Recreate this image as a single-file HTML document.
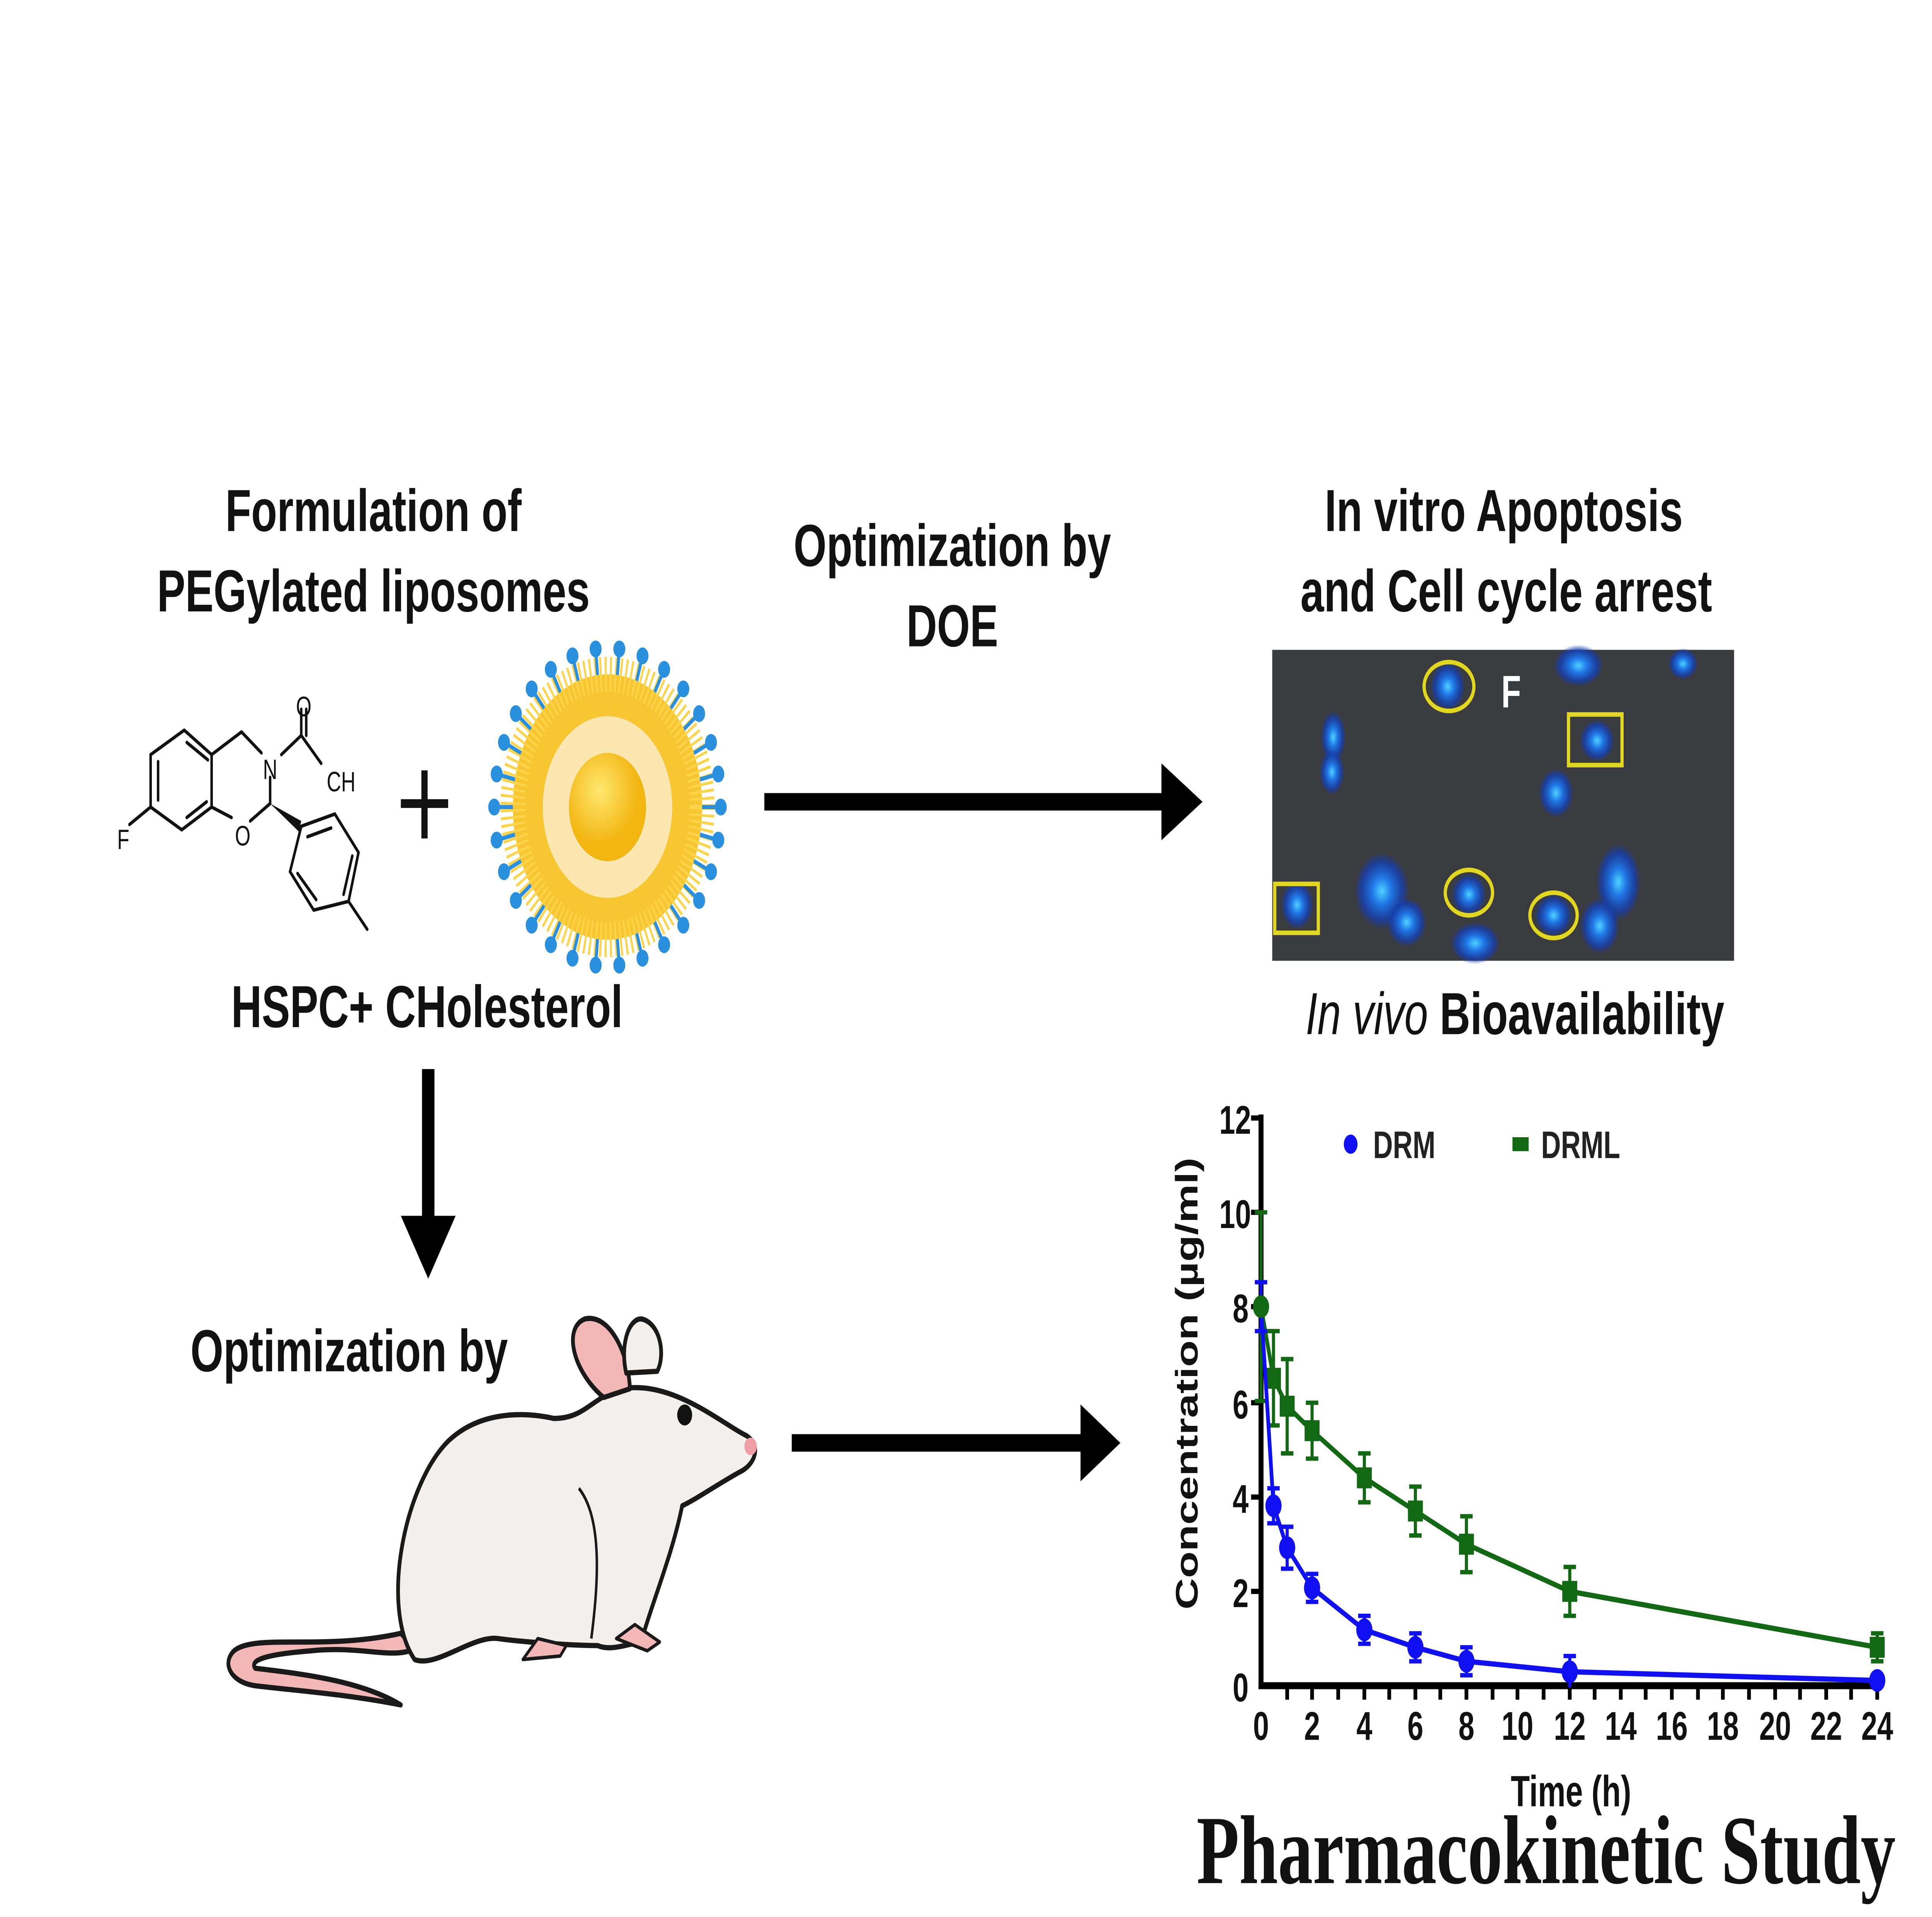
<!DOCTYPE html>
<html><head><meta charset="utf-8"><style>
html,body{margin:0;padding:0;background:#fff;width:100vw;height:100vh;overflow:hidden}
svg{display:block;position:absolute;left:0;top:0;width:100vw;height:100vh}
text{font-family:"Liberation Sans",sans-serif}
</style></head><body>
<svg width="7016" height="4961" viewBox="0 0 1552 1097.4" preserveAspectRatio="none" xmlns="http://www.w3.org/2000/svg">
<defs>
<radialGradient id="blob"><stop offset="0" stop-color="#4fd2ff"/><stop offset="0.35" stop-color="#1f78e6"/><stop offset="0.75" stop-color="#1540b0" stop-opacity="0.8"/><stop offset="1" stop-color="#1540b0" stop-opacity="0"/></radialGradient>
<radialGradient id="core" cx="0.4" cy="0.35"><stop offset="0" stop-color="#ffe770"/><stop offset="1" stop-color="#f2b511"/></radialGradient>
</defs>
<rect width="1552" height="1097.4" fill="#fff"/>

<g font-weight="bold" font-size="34" fill="#111" text-anchor="middle">
<text x="300" y="304">Formulation of</text>
<text x="300" y="350">PEGylated liposomes</text>
<text x="765" y="324">Optimization by</text>
<text x="765" y="370">DOE</text>
<text x="1208" y="304">In vitro Apoptosis</text>
<text x="1210" y="350">and Cell cycle arrest</text>
<text x="1217" y="592"><tspan font-style="italic" font-weight="normal">In vivo</tspan> Bioavailability</text>
<text x="343" y="588">HSPC+ CHolesterol</text>
<text x="153" y="785" text-anchor="start">Optimization by</text>
</g>

<g stroke="#111" stroke-width="2" fill="none" stroke-linecap="round">
<polyline points="148,418 121,432 121,462 146,475 170,462 170,432 148,418"/>
<line x1="127" y1="436" x2="127" y2="458"/>
<line x1="150" y1="425" x2="167" y2="435"/>
<line x1="150" y1="468" x2="166" y2="459"/>
<line x1="170" y1="432" x2="194" y2="419"/>
<line x1="194" y1="419" x2="210" y2="431"/>
<line x1="217" y1="445" x2="217" y2="460"/>
<line x1="217" y1="460" x2="201" y2="470"/>
<line x1="186" y1="468" x2="170" y2="462"/>
<line x1="121" y1="462" x2="104" y2="472"/>
<line x1="226" y1="432" x2="242" y2="421"/>
<line x1="242" y1="421" x2="242" y2="406"/>
<line x1="246" y1="421" x2="246" y2="406"/>
<line x1="242" y1="421" x2="258" y2="437"/>
<polyline points="242,473 269,466 288,488 280,516 252,521 233,499 242,473"/>
<line x1="247" y1="479" x2="266" y2="474"/>
<line x1="283" y1="490" x2="276" y2="512"/>
<line x1="239" y1="500" x2="254" y2="515"/>
<line x1="280" y1="516" x2="295" y2="532"/>
</g>
<polygon points="217,460 242,470 240,476" fill="#111"/>
<g font-size="16" fill="#111" text-anchor="middle">
<text x="217" y="446">N</text><text x="195" y="484">O</text>
<text x="244" y="410">O</text><text x="99" y="486">F</text>
<text x="274" y="453">CH</text>
</g>

<g stroke="#111" stroke-width="5"><line x1="322" y1="460" x2="360" y2="460"/><line x1="341" y1="441" x2="341" y2="480"/></g>

<g transform="translate(488,462)">
<circle r="76" fill="#f7c631"/>
<circle r="76" fill="none" stroke="#fbd44a" stroke-width="20" stroke-dasharray="1.5 2.5"/>
<circle r="52" fill="#fde7b1"/>
<circle r="31" fill="url(#core)"/>
</g>
<g transform="translate(488,462)" stroke="#2a8fdc" stroke-width="2.4" fill="#2a8fdc">
<g><line x1="76" y1="0" x2="90" y2="0"/><circle cx="91" cy="0" r="3.6"/></g>
<g transform="rotate(12)"><line x1="76" y1="0" x2="90" y2="0"/><circle cx="91" cy="0" r="3.6"/></g>
<g transform="rotate(24)"><line x1="76" y1="0" x2="90" y2="0"/><circle cx="91" cy="0" r="3.6"/></g>
<g transform="rotate(36)"><line x1="76" y1="0" x2="90" y2="0"/><circle cx="91" cy="0" r="3.6"/></g>
<g transform="rotate(48)"><line x1="76" y1="0" x2="90" y2="0"/><circle cx="91" cy="0" r="3.6"/></g>
<g transform="rotate(60)"><line x1="76" y1="0" x2="90" y2="0"/><circle cx="91" cy="0" r="3.6"/></g>
<g transform="rotate(72)"><line x1="76" y1="0" x2="90" y2="0"/><circle cx="91" cy="0" r="3.6"/></g>
<g transform="rotate(84)"><line x1="76" y1="0" x2="90" y2="0"/><circle cx="91" cy="0" r="3.6"/></g>
<g transform="rotate(96)"><line x1="76" y1="0" x2="90" y2="0"/><circle cx="91" cy="0" r="3.6"/></g>
<g transform="rotate(108)"><line x1="76" y1="0" x2="90" y2="0"/><circle cx="91" cy="0" r="3.6"/></g>
<g transform="rotate(120)"><line x1="76" y1="0" x2="90" y2="0"/><circle cx="91" cy="0" r="3.6"/></g>
<g transform="rotate(132)"><line x1="76" y1="0" x2="90" y2="0"/><circle cx="91" cy="0" r="3.6"/></g>
<g transform="rotate(144)"><line x1="76" y1="0" x2="90" y2="0"/><circle cx="91" cy="0" r="3.6"/></g>
<g transform="rotate(156)"><line x1="76" y1="0" x2="90" y2="0"/><circle cx="91" cy="0" r="3.6"/></g>
<g transform="rotate(168)"><line x1="76" y1="0" x2="90" y2="0"/><circle cx="91" cy="0" r="3.6"/></g>
<g transform="rotate(180)"><line x1="76" y1="0" x2="90" y2="0"/><circle cx="91" cy="0" r="3.6"/></g>
<g transform="rotate(192)"><line x1="76" y1="0" x2="90" y2="0"/><circle cx="91" cy="0" r="3.6"/></g>
<g transform="rotate(204)"><line x1="76" y1="0" x2="90" y2="0"/><circle cx="91" cy="0" r="3.6"/></g>
<g transform="rotate(216)"><line x1="76" y1="0" x2="90" y2="0"/><circle cx="91" cy="0" r="3.6"/></g>
<g transform="rotate(228)"><line x1="76" y1="0" x2="90" y2="0"/><circle cx="91" cy="0" r="3.6"/></g>
<g transform="rotate(240)"><line x1="76" y1="0" x2="90" y2="0"/><circle cx="91" cy="0" r="3.6"/></g>
<g transform="rotate(252)"><line x1="76" y1="0" x2="90" y2="0"/><circle cx="91" cy="0" r="3.6"/></g>
<g transform="rotate(264)"><line x1="76" y1="0" x2="90" y2="0"/><circle cx="91" cy="0" r="3.6"/></g>
<g transform="rotate(276)"><line x1="76" y1="0" x2="90" y2="0"/><circle cx="91" cy="0" r="3.6"/></g>
<g transform="rotate(288)"><line x1="76" y1="0" x2="90" y2="0"/><circle cx="91" cy="0" r="3.6"/></g>
<g transform="rotate(300)"><line x1="76" y1="0" x2="90" y2="0"/><circle cx="91" cy="0" r="3.6"/></g>
<g transform="rotate(312)"><line x1="76" y1="0" x2="90" y2="0"/><circle cx="91" cy="0" r="3.6"/></g>
<g transform="rotate(324)"><line x1="76" y1="0" x2="90" y2="0"/><circle cx="91" cy="0" r="3.6"/></g>
<g transform="rotate(336)"><line x1="76" y1="0" x2="90" y2="0"/><circle cx="91" cy="0" r="3.6"/></g>
<g transform="rotate(348)"><line x1="76" y1="0" x2="90" y2="0"/><circle cx="91" cy="0" r="3.6"/></g>
</g>

<g fill="#000">
<rect x="614" y="454" width="325" height="10"/>
<polygon points="933,437 966,459 933,481"/>
<rect x="636" y="821" width="240" height="10"/>
<polygon points="868,804 900,826 868,848"/>
<rect x="339" y="612" width="10" height="90"/>
<polygon points="322,696 366,696 344,732"/>
</g>

<rect x="1022" y="372" width="371" height="178" fill="#3a3b3f"/>
<g fill="url(#blob)">
<ellipse cx="1163" cy="393" rx="14" ry="14"/>
<ellipse cx="1268" cy="381" rx="20" ry="12"/>
<ellipse cx="1352" cy="380" rx="12" ry="9"/>
<ellipse cx="1071" cy="422" rx="10" ry="15"/>
<ellipse cx="1070" cy="442" rx="10" ry="13"/>
<ellipse cx="1283" cy="424" rx="14" ry="12"/>
<ellipse cx="1250" cy="454" rx="14" ry="14"/>
<ellipse cx="1042" cy="518" rx="13" ry="14"/>
<ellipse cx="1110" cy="510" rx="22" ry="22"/>
<ellipse cx="1130" cy="528" rx="16" ry="14"/>
<ellipse cx="1180" cy="512" rx="14" ry="12"/>
<ellipse cx="1185" cy="540" rx="20" ry="12"/>
<ellipse cx="1248" cy="524" rx="15" ry="12"/>
<ellipse cx="1300" cy="505" rx="18" ry="22"/>
<ellipse cx="1285" cy="530" rx="16" ry="16"/>
</g>
<g fill="none" stroke="#e2d720" stroke-width="2.6">
<ellipse cx="1164" cy="393" rx="20" ry="14"/>
<ellipse cx="1180" cy="511" rx="19" ry="13"/>
<ellipse cx="1248" cy="524" rx="19" ry="13"/>
<rect x="1260" y="409" width="43" height="29"/>
<rect x="1024" y="506" width="35" height="28"/>
</g>
<text x="1206" y="405" font-size="26" font-weight="bold" fill="#fff">F</text>

<g stroke="#1a1a1a" stroke-width="3" stroke-linejoin="round">
<path d="M322,935 C260,945 205,935 188,945 C178,952 185,963 205,965 C240,968 280,970 322,976 C290,962 240,958 205,955 C200,950 215,947 250,945 C290,942 315,950 333,944 Z" fill="#f3b8b6"/>
<path d="M333,950 C305,920 325,850 360,825 C385,808 420,808 445,812 C470,812 475,800 500,795 C540,790 580,815 600,822 C612,828 606,838 596,842 C580,848 560,858 548,862 C540,890 525,915 515,940 C500,942 490,945 480,942 C460,942 420,940 400,938 C380,936 350,955 333,950 Z" fill="#f2f0ec"/>
<path d="M485,800 C460,785 452,760 470,755 C490,752 505,775 506,795 Z" fill="#f3b8b6"/>
<path d="M503,786 C498,770 505,755 515,755 C530,757 535,775 528,785 Z" fill="#f2f0ec"/>
<path d="M420,950 L450,948 L455,942 L432,938 Z" fill="#f3b8b6" stroke-width="2"/>
<path d="M495,938 L520,945 L530,940 L510,930 Z" fill="#f3b8b6" stroke-width="2"/>
</g>
<circle cx="550" cy="810" r="6" fill="#111"/>
<circle cx="603" cy="828" r="5" fill="#f0a0a4"/>
<path d="M465,852 C485,870 480,910 475,938" stroke="#1a1a1a" stroke-width="2" fill="none"/>

<g stroke="#000" stroke-width="4">
<line x1="1013" y1="638" x2="1013" y2="967"/>
<line x1="1011" y1="965" x2="1510" y2="965"/>
</g>
<g stroke="#000" stroke-width="3">
<line x1="1005" y1="640" x2="1013" y2="640"/><line x1="1005" y1="694" x2="1013" y2="694"/><line x1="1005" y1="748" x2="1013" y2="748"/><line x1="1005" y1="803" x2="1013" y2="803"/><line x1="1005" y1="857" x2="1013" y2="857"/><line x1="1005" y1="911" x2="1013" y2="911"/>
<line x1="1034" y1="965" x2="1034" y2="973"/><line x1="1054" y1="965" x2="1054" y2="973"/><line x1="1075" y1="965" x2="1075" y2="973"/><line x1="1096" y1="965" x2="1096" y2="973"/><line x1="1116" y1="965" x2="1116" y2="973"/><line x1="1137" y1="965" x2="1137" y2="973"/><line x1="1157" y1="965" x2="1157" y2="973"/><line x1="1178" y1="965" x2="1178" y2="973"/><line x1="1199" y1="965" x2="1199" y2="973"/><line x1="1219" y1="965" x2="1219" y2="973"/><line x1="1240" y1="965" x2="1240" y2="973"/><line x1="1261" y1="965" x2="1261" y2="973"/><line x1="1281" y1="965" x2="1281" y2="973"/><line x1="1302" y1="965" x2="1302" y2="973"/><line x1="1322" y1="965" x2="1322" y2="973"/><line x1="1343" y1="965" x2="1343" y2="973"/><line x1="1364" y1="965" x2="1364" y2="973"/><line x1="1384" y1="965" x2="1384" y2="973"/><line x1="1405" y1="965" x2="1405" y2="973"/><line x1="1426" y1="965" x2="1426" y2="973"/><line x1="1446" y1="965" x2="1446" y2="973"/><line x1="1467" y1="965" x2="1467" y2="973"/><line x1="1487" y1="965" x2="1487" y2="973"/><line x1="1508" y1="965" x2="1508" y2="973"/>
</g>
<g font-size="23" font-weight="bold" fill="#111" text-anchor="end">
<text x="1005" y="649">12</text><text x="1005" y="703">10</text><text x="1003" y="757">8</text><text x="1003" y="812">6</text><text x="1003" y="866">4</text><text x="1003" y="920">2</text><text x="1003" y="974">0</text>
</g>
<g font-size="23" font-weight="bold" fill="#111" text-anchor="middle">
<text x="1013" y="996">0</text><text x="1054" y="996">2</text><text x="1096" y="996">4</text><text x="1137" y="996">6</text><text x="1178" y="996">8</text><text x="1219" y="996">10</text><text x="1261" y="996">12</text><text x="1302" y="996">14</text><text x="1343" y="996">16</text><text x="1384" y="996">18</text><text x="1426" y="996">20</text><text x="1467" y="996">22</text><text x="1508" y="996">24</text>
<text x="1262" y="1034" font-size="25">Time (h)</text>
<text transform="translate(962,792) rotate(-90)" font-size="25">Concentration (µg/ml)</text>
</g>
<circle cx="1085" cy="655" r="5.5" fill="#1010f0"/>
<rect x="1215" y="651" width="13" height="8" fill="#136813"/>
<g font-size="22" font-weight="bold" fill="#222"><text x="1103" y="663">DRM</text><text x="1238" y="663">DRML</text></g>
<polyline points="1013,748 1023,789 1034,805 1054,819 1096,846 1137,865 1178,884 1261,911 1508,943" fill="none" stroke="#136813" stroke-width="3"/>
<g stroke="#136813" stroke-width="2.5">
<path d="M1013,694 V802 M1008,694 H1018 M1008,802 H1018"/>
<path d="M1023,762 V816 M1018,762 H1028 M1018,816 H1028"/>
<path d="M1034,778 V832 M1029,778 H1039 M1029,832 H1039"/>
<path d="M1054,803 V835 M1049,803 H1059 M1049,835 H1059"/>
<path d="M1096,832 V860 M1091,832 H1101 M1091,860 H1101"/>
<path d="M1137,851 V879 M1132,851 H1142 M1132,879 H1142"/>
<path d="M1178,868 V900 M1173,868 H1183 M1173,900 H1183"/>
<path d="M1261,897 V925 M1256,897 H1266 M1256,925 H1266"/>
<path d="M1508,935 V951 M1503,935 H1513 M1503,951 H1513"/>
</g>
<g fill="#136813">
<rect x="1017" y="783" width="12" height="12"/><rect x="1028" y="799" width="12" height="12"/><rect x="1048" y="813" width="12" height="12"/><rect x="1090" y="840" width="12" height="12"/><rect x="1131" y="859" width="12" height="12"/><rect x="1172" y="878" width="12" height="12"/><rect x="1255" y="905" width="12" height="12"/><rect x="1502" y="937" width="12" height="12"/>
</g>
<polyline points="1013,748 1023,862 1034,886 1054,909 1096,933 1137,943 1178,951 1261,957 1508,962" fill="none" stroke="#1010f0" stroke-width="3"/>
<g stroke="#1010f0" stroke-width="2.5">
<path d="M1013,734 V762 M1008,734 H1018 M1008,762 H1018"/>
<path d="M1023,852 V872 M1018,852 H1028 M1018,872 H1028"/>
<path d="M1034,874 V898 M1029,874 H1039 M1029,898 H1039"/>
<path d="M1054,901 V917 M1049,901 H1059 M1049,917 H1059"/>
<path d="M1096,925 V941 M1091,925 H1101 M1091,941 H1101"/>
<path d="M1137,935 V951 M1132,935 H1142 M1132,951 H1142"/>
<path d="M1178,943 V959 M1173,943 H1183 M1173,959 H1183"/>
<path d="M1261,948 V966 M1256,948 H1266"/>
</g>
<g fill="#1010f0">
<circle cx="1023" cy="862" r="6.5"/><circle cx="1034" cy="886" r="6.5"/><circle cx="1054" cy="909" r="6.5"/><circle cx="1096" cy="933" r="6.5"/><circle cx="1137" cy="943" r="6.5"/><circle cx="1178" cy="951" r="6.5"/><circle cx="1261" cy="957" r="6.5"/><circle cx="1508" cy="962" r="6.5"/>
</g>
<circle cx="1013" cy="748" r="6.5" fill="#136813"/>

<text x="1242" y="1078" text-anchor="middle" font-weight="bold" font-size="56" fill="#111" style="font-family:'Liberation Serif',serif">Pharmacokinetic Study</text>
</svg>
</body></html>
